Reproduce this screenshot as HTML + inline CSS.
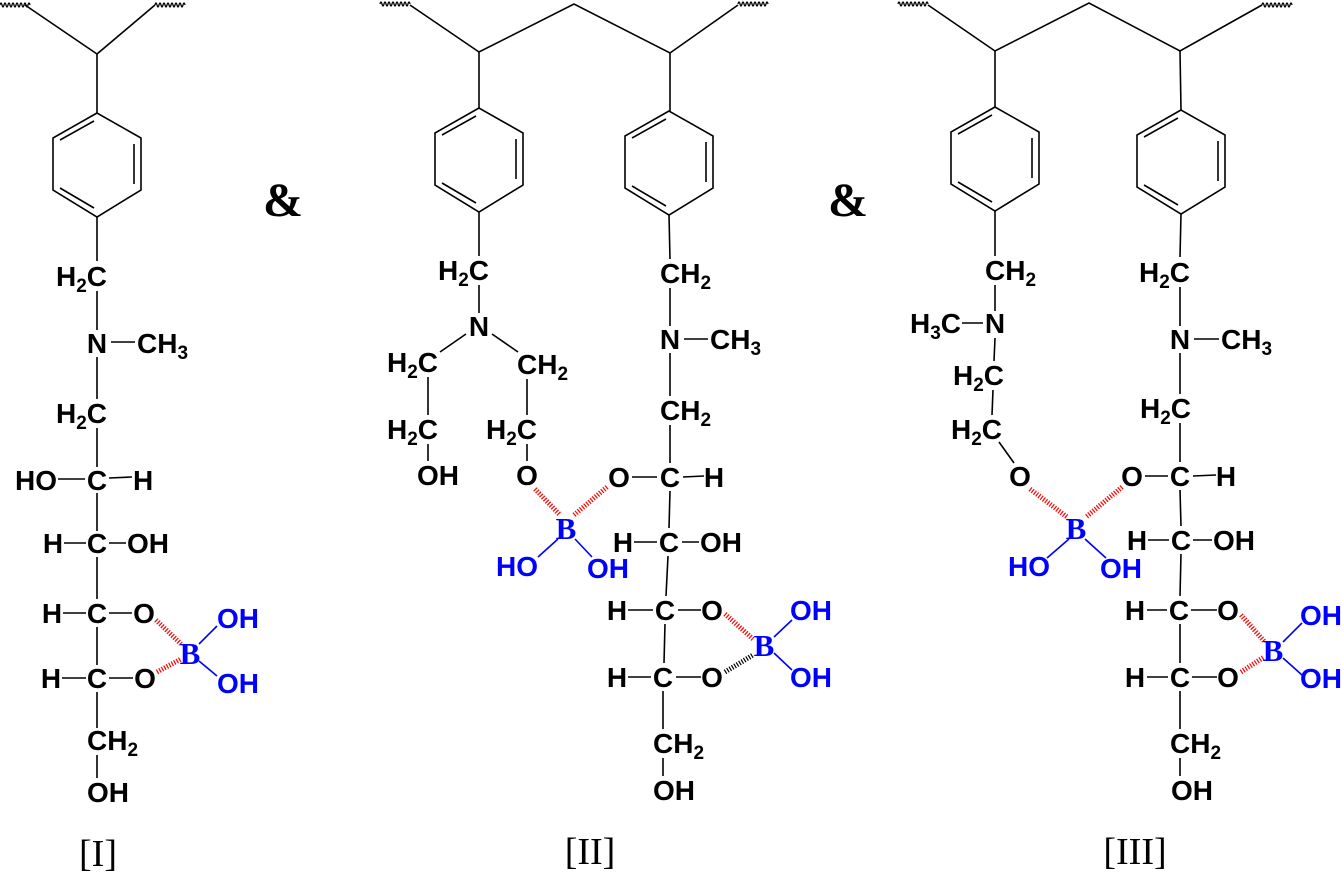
<!DOCTYPE html>
<html><head><meta charset="utf-8"><style>
html,body{margin:0;padding:0;background:#fff;}
svg{display:block;}
.t{font-family:"Liberation Sans",Arial,sans-serif;font-weight:bold;font-size:28px;fill:#000;}
.b{fill:#0000ff;}
.s{font-size:19px;}
.bo{font-family:"Liberation Serif",serif;font-weight:bold;font-size:31px;fill:#0000ff;}
.lab{font-family:"Liberation Serif",serif;font-size:38px;fill:#000;}
.amp{font-family:"Liberation Serif",serif;font-weight:bold;font-size:48px;fill:#000;}
line,polyline,path.l{stroke:#000;stroke-width:1.6;fill:none;}
.bl{stroke:#0000ff !important;}
.hr{stroke:#ff0000 !important;stroke-width:5 !important;stroke-dasharray:1.2 1.6;}
.hk{stroke:#000 !important;stroke-width:5 !important;stroke-dasharray:1.2 1.6;}
.w{stroke:#000;stroke-width:1.3;fill:none;}
</style></head><body>
<svg width="1342" height="872" viewBox="0 0 1342 872" xmlns="http://www.w3.org/2000/svg">
<defs>
<g id="ring">
<polygon points="0,0 -44,25 -44,77 0,104 44,77 44,25" style="stroke:#000;stroke-width:1.6;fill:none"/>
<line x1="-3" y1="8" x2="-37" y2="27"/>
<line x1="37" y1="31" x2="37" y2="71"/>
<line x1="-37" y1="75" x2="-3" y2="95"/>
</g>
<path id="wave" class="w" d="M0,0 q1,-4 2,0 q1,4 2,0 q1,-4 2,0 q1,4 2,0 q1,-4 2,0 q1,4 2,0 q1,-4 2,0 q1,4 2,0 q1,-4 2,0 q1,4 2,0 q1,-4 2,0 q1,4 2,0 q1,-4 2,0 q1,4 2,0 q1,-4 2,0"/>
</defs>

<!-- ============ I ============ -->
<use href="#wave" x="0" y="5"/>
<use href="#wave" x="155" y="5"/>
<line x1="25" y1="5" x2="97" y2="54"/>
<line x1="155" y1="5" x2="97" y2="54"/>
<line x1="97" y1="54" x2="97" y2="113"/>
<use href="#ring" x="97" y="113"/>
<line x1="97" y1="217" x2="97" y2="261"/>
<text class="t" x="107" y="286" text-anchor="end">H<tspan class="s" dy="6">2</tspan><tspan dy="-6">C</tspan></text>
<line x1="97" y1="291" x2="97" y2="330"/>
<text class="t" x="97" y="353" text-anchor="middle">N</text>
<line x1="111" y1="342" x2="135" y2="342"/>
<text class="t" x="137" y="353">CH<tspan class="s" dy="6">3</tspan></text>
<line x1="97" y1="357" x2="97" y2="399"/>
<text class="t" x="107" y="423" text-anchor="end">H<tspan class="s" dy="6">2</tspan><tspan dy="-6">C</tspan></text>
<line x1="97" y1="428" x2="97" y2="467"/>
<text class="t" x="57" y="490" text-anchor="end">HO</text>
<line x1="58" y1="479" x2="85" y2="479"/>
<text class="t" x="97" y="490" text-anchor="middle">C</text>
<line x1="109" y1="478" x2="132" y2="477"/>
<text class="t" x="133" y="490">H</text>
<line x1="97" y1="493" x2="97" y2="531"/>
<text class="t" x="53" y="553" text-anchor="middle">H</text>
<line x1="64" y1="543" x2="86" y2="543"/>
<text class="t" x="97" y="553" text-anchor="middle">C</text>
<line x1="109" y1="543" x2="126" y2="543"/>
<text class="t" x="127" y="553">OH</text>
<line x1="97" y1="557" x2="97" y2="599"/>
<text class="t" x="52" y="623" text-anchor="middle">H</text>
<line x1="63" y1="613" x2="86" y2="613"/>
<text class="t" x="97" y="623" text-anchor="middle">C</text>
<line x1="109" y1="613" x2="132" y2="613"/>
<text class="t" x="144" y="623" text-anchor="middle">O</text>
<line x1="97" y1="627" x2="97" y2="665"/>
<text class="t" x="51" y="688" text-anchor="middle">H</text>
<line x1="62" y1="678" x2="86" y2="678"/>
<text class="t" x="97" y="688" text-anchor="middle">C</text>
<line x1="109" y1="678" x2="133" y2="678"/>
<text class="t" x="145" y="688" text-anchor="middle">O</text>
<line class="hr" x1="156" y1="620" x2="181" y2="644"/>
<line class="hr" x1="157" y1="672" x2="181" y2="659"/>
<text class="bo" x="190" y="664" text-anchor="middle">B</text>
<line class="bl" x1="199" y1="644" x2="217" y2="626"/>
<line class="bl" x1="199" y1="661" x2="217" y2="676"/>
<text class="t b" x="217" y="628">OH</text>
<text class="t b" x="217" y="693">OH</text>
<line x1="97" y1="692" x2="97" y2="728"/>
<text class="t" x="87" y="750">CH<tspan class="s" dy="6">2</tspan></text>
<line x1="97" y1="755" x2="97" y2="778"/>
<text class="t" x="87" y="802">OH</text>
<text class="lab" x="98" y="866" text-anchor="middle">[I]</text>
<text class="amp" x="283" y="216" text-anchor="middle">&amp;</text>

<!-- ============ II ============ -->
<use href="#wave" x="380" y="4"/>
<use href="#wave" x="738" y="4"/>
<polyline points="410,5 479,52 574,4 670,53 738,5"/>
<line x1="479" y1="52" x2="479" y2="108"/>
<line x1="670" y1="53" x2="670" y2="111"/>
<use href="#ring" x="479" y="108"/>
<use href="#ring" x="669" y="111"/>
<line x1="479" y1="212" x2="479" y2="256"/>
<text class="t" x="489" y="280" text-anchor="end">H<tspan class="s" dy="6">2</tspan><tspan dy="-6">C</tspan></text>
<line x1="479" y1="285" x2="479" y2="313"/>
<text class="t" x="479" y="336" text-anchor="middle">N</text>
<line x1="466" y1="334" x2="440" y2="352"/>
<line x1="492" y1="334" x2="518" y2="352"/>
<text class="t" x="438" y="372" text-anchor="end">H<tspan class="s" dy="6">2</tspan><tspan dy="-6">C</tspan></text>
<text class="t" x="517" y="374">CH<tspan class="s" dy="6">2</tspan></text>
<line x1="428" y1="377" x2="428" y2="415"/>
<line x1="527" y1="379" x2="527" y2="415"/>
<text class="t" x="438" y="439" text-anchor="end">H<tspan class="s" dy="6">2</tspan><tspan dy="-6">C</tspan></text>
<text class="t" x="537" y="439" text-anchor="end">H<tspan class="s" dy="6">2</tspan><tspan dy="-6">C</tspan></text>
<line x1="428" y1="444" x2="428" y2="461"/>
<line x1="527" y1="444" x2="527" y2="461"/>
<text class="t" x="438" y="485" text-anchor="middle">OH</text>
<text class="t" x="527" y="485" text-anchor="middle">O</text>
<line class="hr" x1="535" y1="489" x2="560" y2="515"/>
<line class="hr" x1="607" y1="487" x2="574" y2="515"/>
<text class="bo" x="566" y="539" text-anchor="middle">B</text>
<line class="bl" x1="558" y1="539" x2="538" y2="557"/>
<line class="bl" x1="575" y1="539" x2="592" y2="557"/>
<text class="t b" x="517" y="576" text-anchor="middle">HO</text>
<text class="t b" x="608" y="578" text-anchor="middle">OH</text>
<!-- right chain II -->
<line x1="669" y1="215" x2="670" y2="259"/>
<text class="t" x="660" y="283">CH<tspan class="s" dy="6">2</tspan></text>
<line x1="670" y1="288" x2="670" y2="326"/>
<text class="t" x="670" y="349" text-anchor="middle">N</text>
<line x1="684" y1="339" x2="708" y2="339"/>
<text class="t" x="710" y="349">CH<tspan class="s" dy="6">3</tspan></text>
<line x1="670" y1="353" x2="670" y2="396"/>
<text class="t" x="660" y="420">CH<tspan class="s" dy="6">2</tspan></text>
<line x1="670" y1="425" x2="670" y2="463"/>
<text class="t" x="619" y="487" text-anchor="middle">O</text>
<line x1="632" y1="477" x2="657" y2="477"/>
<text class="t" x="670" y="487" text-anchor="middle">C</text>
<line x1="683" y1="477" x2="704" y2="476"/>
<text class="t" x="714" y="487" text-anchor="middle">H</text>
<line x1="670" y1="491" x2="669" y2="528"/>
<text class="t" x="623" y="552" text-anchor="middle">H</text>
<line x1="634" y1="542" x2="657" y2="542"/>
<text class="t" x="669" y="552" text-anchor="middle">C</text>
<line x1="682" y1="542" x2="699" y2="542"/>
<text class="t" x="700" y="552">OH</text>
<line x1="668" y1="556" x2="666" y2="596"/>
<text class="t" x="617" y="620" text-anchor="middle">H</text>
<line x1="628" y1="610" x2="653" y2="610"/>
<text class="t" x="665" y="620" text-anchor="middle">C</text>
<line x1="678" y1="610" x2="701" y2="610"/>
<text class="t" x="712" y="620" text-anchor="middle">O</text>
<line x1="665" y1="624" x2="664" y2="663"/>
<text class="t" x="617" y="687" text-anchor="middle">H</text>
<line x1="628" y1="677" x2="651" y2="677"/>
<text class="t" x="663" y="687" text-anchor="middle">C</text>
<line x1="676" y1="677" x2="701" y2="677"/>
<text class="t" x="712" y="687" text-anchor="middle">O</text>
<line class="hr" x1="725" y1="614" x2="753" y2="639"/>
<line class="hk" x1="725" y1="672" x2="753" y2="655"/>
<text class="bo" x="764" y="656" text-anchor="middle">B</text>
<line class="bl" x1="774" y1="637" x2="792" y2="620"/>
<line class="bl" x1="774" y1="653" x2="792" y2="670"/>
<text class="t b" x="790" y="620">OH</text>
<text class="t b" x="790" y="687">OH</text>
<line x1="663" y1="691" x2="663" y2="729"/>
<text class="t" x="653" y="753">CH<tspan class="s" dy="6">2</tspan></text>
<line x1="663" y1="758" x2="663" y2="776"/>
<text class="t" x="653" y="800">OH</text>
<text class="lab" x="590" y="864" text-anchor="middle">[II]</text>
<text class="amp" x="848" y="216" text-anchor="middle">&amp;</text>

<!-- ============ III ============ -->
<use href="#wave" x="898" y="4"/>
<use href="#wave" x="1262" y="5"/>
<polyline points="928,5 995,51 1089,3 1180,51 1262,5"/>
<line x1="995" y1="51" x2="995" y2="107"/>
<line x1="1180" y1="51" x2="1181" y2="110"/>
<use href="#ring" x="995" y="107"/>
<use href="#ring" x="1181" y="110"/>
<line x1="995" y1="211" x2="995" y2="256"/>
<text class="t" x="985" y="280">CH<tspan class="s" dy="6">2</tspan></text>
<line x1="995" y1="285" x2="995" y2="311"/>
<text class="t" x="995" y="333" text-anchor="middle">N</text>
<line x1="962" y1="323" x2="983" y2="323"/>
<text class="t" x="961" y="333" text-anchor="end">H<tspan class="s" dy="6">3</tspan><tspan dy="-6">C</tspan></text>
<line x1="995" y1="338" x2="994" y2="361"/>
<text class="t" x="1004" y="385" text-anchor="end">H<tspan class="s" dy="6">2</tspan><tspan dy="-6">C</tspan></text>
<line x1="993" y1="390" x2="992" y2="415"/>
<text class="t" x="1002" y="439" text-anchor="end">H<tspan class="s" dy="6">2</tspan><tspan dy="-6">C</tspan></text>
<line x1="999" y1="442" x2="1014" y2="463"/>
<text class="t" x="1020" y="486" text-anchor="middle">O</text>
<line class="hr" x1="1030" y1="489" x2="1067" y2="517"/>
<line class="hr" x1="1122" y1="487" x2="1086" y2="517"/>
<text class="bo" x="1076" y="539" text-anchor="middle">B</text>
<line class="bl" x1="1069" y1="539" x2="1047" y2="558"/>
<line class="bl" x1="1085" y1="539" x2="1106" y2="558"/>
<text class="t b" x="1029" y="576" text-anchor="middle">HO</text>
<text class="t b" x="1121" y="578" text-anchor="middle">OH</text>
<!-- right chain III -->
<line x1="1181" y1="214" x2="1180" y2="257"/>
<text class="t" x="1190" y="282" text-anchor="end">H<tspan class="s" dy="6">2</tspan><tspan dy="-6">C</tspan></text>
<line x1="1180" y1="287" x2="1180" y2="326"/>
<text class="t" x="1180" y="349" text-anchor="middle">N</text>
<line x1="1194" y1="339" x2="1219" y2="339"/>
<text class="t" x="1221" y="349">CH<tspan class="s" dy="6">3</tspan></text>
<line x1="1180" y1="353" x2="1180" y2="394"/>
<text class="t" x="1191" y="418" text-anchor="end">H<tspan class="s" dy="6">2</tspan><tspan dy="-6">C</tspan></text>
<line x1="1180" y1="423" x2="1180" y2="462"/>
<text class="t" x="1132" y="486" text-anchor="middle">O</text>
<line x1="1145" y1="476" x2="1168" y2="476"/>
<text class="t" x="1180" y="486" text-anchor="middle">C</text>
<line x1="1193" y1="476" x2="1216" y2="475"/>
<text class="t" x="1226" y="486" text-anchor="middle">H</text>
<line x1="1180" y1="490" x2="1181" y2="526"/>
<text class="t" x="1137" y="550" text-anchor="middle">H</text>
<line x1="1148" y1="540" x2="1169" y2="540"/>
<text class="t" x="1181" y="550" text-anchor="middle">C</text>
<line x1="1193" y1="540" x2="1212" y2="540"/>
<text class="t" x="1213" y="550">OH</text>
<line x1="1181" y1="554" x2="1180" y2="596"/>
<text class="t" x="1135" y="620" text-anchor="middle">H</text>
<line x1="1147" y1="610" x2="1167" y2="610"/>
<text class="t" x="1179" y="620" text-anchor="middle">C</text>
<line x1="1191" y1="610" x2="1217" y2="610"/>
<text class="t" x="1228" y="620" text-anchor="middle">O</text>
<line x1="1180" y1="624" x2="1180" y2="663"/>
<text class="t" x="1135" y="687" text-anchor="middle">H</text>
<line x1="1147" y1="677" x2="1168" y2="677"/>
<text class="t" x="1180" y="687" text-anchor="middle">C</text>
<line x1="1192" y1="677" x2="1217" y2="677"/>
<text class="t" x="1228" y="687" text-anchor="middle">O</text>
<line class="hr" x1="1241" y1="615" x2="1264" y2="641"/>
<line class="hr" x1="1241" y1="672" x2="1264" y2="657"/>
<text class="bo" x="1273" y="661" text-anchor="middle">B</text>
<line class="bl" x1="1283" y1="642" x2="1302" y2="623"/>
<line class="bl" x1="1283" y1="658" x2="1302" y2="675"/>
<text class="t b" x="1300" y="625">OH</text>
<text class="t b" x="1300" y="688">OH</text>
<line x1="1180" y1="691" x2="1180" y2="729"/>
<text class="t" x="1170" y="753">CH<tspan class="s" dy="6">2</tspan></text>
<line x1="1180" y1="758" x2="1180" y2="776"/>
<text class="t" x="1171" y="800">OH</text>
<text class="lab" x="1135" y="864" text-anchor="middle">[III]</text>
</svg>
</body></html>
